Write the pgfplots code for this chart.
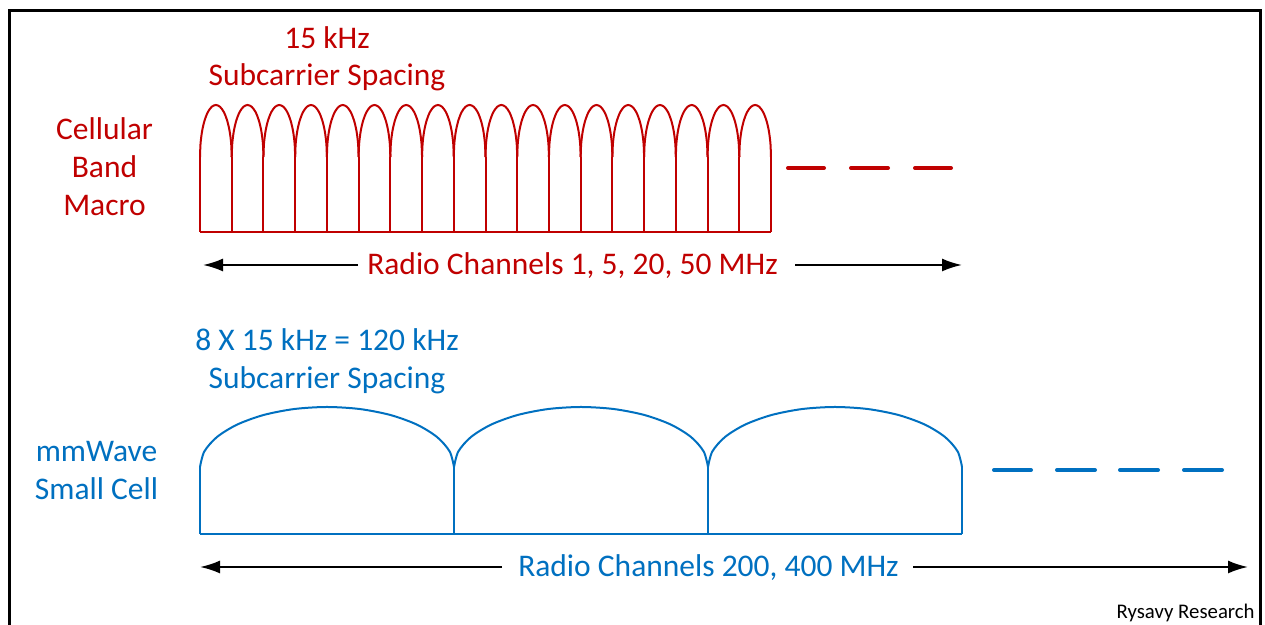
\documentclass[border=0pt]{standalone}
\usepackage{pgfplots}
\pgfplotsset{compat=1.18}
\usepackage{pgfplotstable}
\usepackage{fontspec}
\setmainfont{Carlito}
\usetikzlibrary{arrows.meta}
\definecolor{cred}{HTML}{C00000}
\definecolor{cblue}{HTML}{0070C0}
% unit half-ellipse cap (u from -1 to 1, v from 0 to 1)
\pgfplotstableread{
u v
-1 0
-0.9659 0.2588
-0.8660 0.5
-0.7071 0.7071
-0.5 0.8660
-0.2588 0.9659
0 1
0.2588 0.9659
0.5 0.8660
0.7071 0.7071
0.8660 0.5
0.9659 0.2588
1 0
}\captable
\newcommand{\bigtxt}{\fontsize{15.75pt}{19pt}\selectfont}
\begin{document}
\begin{tikzpicture}
\begin{axis}[name=ax,width=632.5pt,height=312.5pt,scale only axis,
  xmin=0,xmax=1265,ymin=0,ymax=625,axis lines=none,clip=false,
  unbounded coords=jump]
% frame
\addplot[black,line width=1.5pt] coordinates {(9.7,-20)(9.7,614.5)(1260,614.5)(1260,-20)};
% red comb: base and verticals
\addplot[cred,line width=1pt] coordinates {(200,393)(771,393)};
\addplot[cred,line width=1pt] coordinates {
(200.0,393)(200.0,468)(nan,nan)
(231.7,393)(231.7,468)(nan,nan)
(263.4,393)(263.4,468)(nan,nan)
(295.2,393)(295.2,468)(nan,nan)
(326.9,393)(326.9,468)(nan,nan)
(358.6,393)(358.6,468)(nan,nan)
(390.3,393)(390.3,468)(nan,nan)
(422.1,393)(422.1,468)(nan,nan)
(453.8,393)(453.8,468)(nan,nan)
(485.5,393)(485.5,468)(nan,nan)
(517.2,393)(517.2,468)(nan,nan)
(548.9,393)(548.9,468)(nan,nan)
(580.7,393)(580.7,468)(nan,nan)
(612.4,393)(612.4,468)(nan,nan)
(644.1,393)(644.1,468)(nan,nan)
(675.8,393)(675.8,468)(nan,nan)
(707.6,393)(707.6,468)(nan,nan)
(739.3,393)(739.3,468)(nan,nan)
(771.0,393)(771.0,468)
};
\pgfplotsinvokeforeach{0,...,17}{
  \addplot[cred,line width=1pt,smooth] table[x expr={215.86+#1*31.722+15.86*\thisrow{u}},y expr={468+52*\thisrow{v}}] {\captable};
}
% red dashes
\addplot[cred,line width=2pt,line cap=round] coordinates {(788,457)(824,457)(nan,nan)(851,457)(888,457)(nan,nan)(915,457)(951,457)};
% blue comb
\addplot[cblue,line width=1pt] coordinates {(200,91)(962,91)};
\addplot[cblue,line width=1pt] coordinates {
(200,91)(200,158)(nan,nan)
(454,91)(454,158)(nan,nan)
(708,91)(708,158)(nan,nan)
(962,91)(962,158)
};
\pgfplotsinvokeforeach{0,1,2}{
  \addplot[cblue,line width=1pt,smooth] table[x expr={327+#1*254+127*\thisrow{u}},y expr={158+60*\thisrow{v}}] {\captable};
}
% blue dashes
\addplot[cblue,line width=2pt,line cap=round] coordinates {(994,155)(1031,155)(nan,nan)(1057,155)(1095,155)(nan,nan)(1120,155)(1158,155)(nan,nan)(1184,155)(1222,155)};
% arrows
\addplot[black,line width=1pt,-{Latex[length=10pt,width=6.5pt]}] coordinates {(358,360)(203,360)};
\addplot[black,line width=1pt,-{Latex[length=10pt,width=6.5pt]}] coordinates {(795,360)(962,360)};
\addplot[black,line width=1pt,-{Latex[length=10pt,width=6.5pt]}] coordinates {(502,58)(200,58)};
\addplot[black,line width=1pt,-{Latex[length=10pt,width=6.5pt]}] coordinates {(913,58)(1248,58)};
% texts
\node[anchor=base,text=cred,font=\bigtxt] at (axis cs:327,576) {15 kHz};
\node[anchor=base,text=cred,font=\bigtxt] at (axis cs:327,539) {Subcarrier Spacing};
\node[anchor=base,text=cred,font=\bigtxt] at (axis cs:104.5,485) {Cellular};
\node[anchor=base,text=cred,font=\bigtxt] at (axis cs:104.5,447) {Band};
\node[anchor=base,text=cred,font=\bigtxt] at (axis cs:104.5,409) {Macro};
\node[anchor=base,text=cred,font=\bigtxt] at (axis cs:572.5,350) {Radio Channels 1, 5, 20, 50 MHz};
\node[anchor=base,text=cblue,font=\bigtxt] at (axis cs:327,274) {8 X 15 kHz = 120 kHz};
\node[anchor=base,text=cblue,font=\bigtxt] at (axis cs:327,236) {Subcarrier Spacing};
\node[anchor=base,text=cblue,font=\bigtxt] at (axis cs:96.5,163) {mmWave};
\node[anchor=base,text=cblue,font=\bigtxt] at (axis cs:96.5,125) {Small Cell};
\node[anchor=base,text=cblue,font=\bigtxt] at (axis cs:708.5,48) {Radio Channels 200, 400 MHz};
\node[anchor=base east,text=black,font=\fontsize{10.4pt}{12pt}\selectfont,inner sep=0pt] at (axis cs:1255,6) {Rysavy Research};
\end{axis}
\pgfresetboundingbox
\useasboundingbox (ax.south west) rectangle (ax.north east);
\end{tikzpicture}
\end{document}
